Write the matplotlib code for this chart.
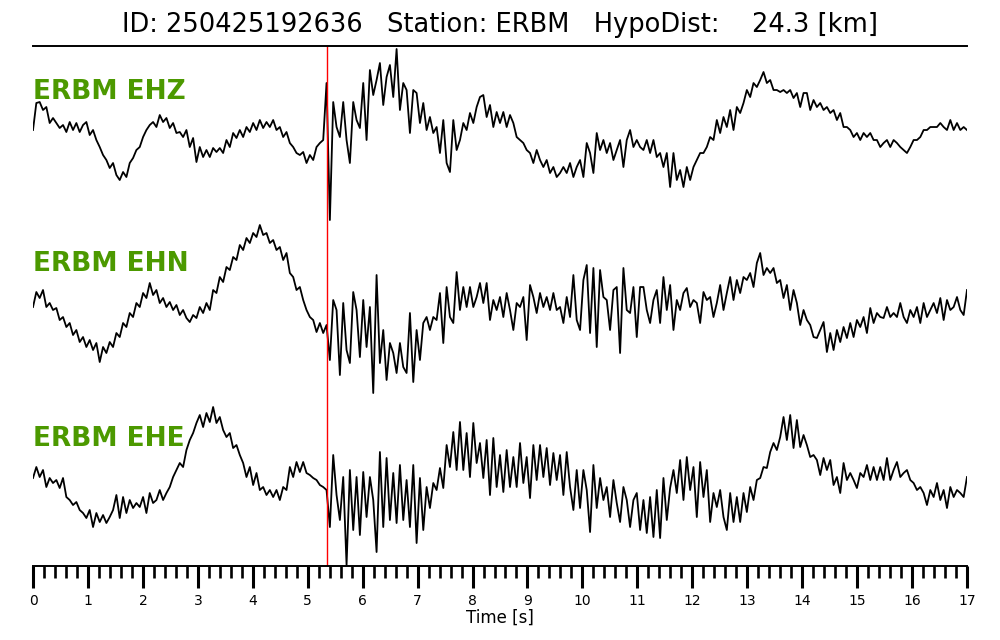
import numpy as np
from matplotlib import pyplot as plt
from matplotlib.ticker import MultipleLocator

# header info
event_id = '250425192636'
station = 'ERBM'
hypo_dist = 24.3
channels = ['EHZ', 'EHN', 'EHE']
p_pick = 5.36  # P arrival [s]

# traces, 281 samples over 17 s (arbitrary units)
ehz = [0, 27, 28, 20, 23, 7, 12, 7, 2, 5,
       -2, 8, 0, 7, -2, 5, 8, -5, 0, -10,
       -17, -25, -30, -38, -33, -45, -50, -42, -47, -33,
       -28, -20, -17, -7, 0, 5, 8, 3, 15, 8,
       12, 2, 7, -3, -2, -7, 0, -17, -8, -32,
       -17, -27, -20, -27, -18, -22, -18, -23, -10, -17,
       -3, -8, 0, -7, 3, -2, 7, 0, 10, 2,
       8, 3, 10, 0, 3, -7, -2, -13, -17, -23,
       -25, -22, -33, -25, -30, -17, -13, -10, 47, -90,
       28, 3, -7, 28, -10, -33, 28, 10, 2, 47,
       -10, 60, 35, 50, 67, 25, 53, 65, 33, 81,
       20, 47, 40, -3, 40, 37, 7, 27, 0, 13,
       -3, 3, -23, 10, -33, -42, 10, -20, -10, 7,
       0, 17, 7, 23, 33, 35, 13, 25, 3, 18,
       7, 18, 3, 15, 7, -7, -10, -13, -20, -23,
       -33, -20, -30, -37, -30, -43, -37, -47, -43, -37,
       -43, -33, -47, -37, -30, -47, -13, -23, -43, -3,
       -20, -10, -23, -13, -30, -20, -10, -37, -10, 0,
       -17, -10, -17, -20, -10, -23, -10, -27, -23, -37,
       -23, -57, -23, -50, -40, -57, -37, -50, -37, -30,
       -23, -23, -17, -7, -10, 10, -3, 13, 3, 20,
       0, 23, 17, 27, 40, 33, 47, 43, 50, 58,
       47, 50, 40, 40, 38, 40, 37, 40, 32, 37,
       23, 37, 37, 20, 30, 23, 27, 20, 23, 17,
       20, 10, 17, 3, 3, 0, -7, -3, -10, -3,
       -7, -3, -10, -10, -17, -13, -10, -17, -10, -13,
       -17, -20, -23, -17, -10, -10, -7, 0, 0, 3,
       3, 3, 7, 3, 0, 10, 0, 7, 0, 3, 0]

ehn = [-7, 8, 2, 10, -7, -3, -10, -8, -20, -17,
       -27, -23, -35, -30, -42, -37, -47, -40, -50, -43,
       -62, -47, -53, -42, -47, -33, -37, -23, -27, -13,
       -17, -3, -7, 7, 2, 17, 5, 10, -3, 2,
       -7, -2, -10, -5, -15, -10, -18, -22, -15, -18,
       -7, -13, -3, -10, 10, 7, 23, 18, 33, 30,
       43, 40, 55, 50, 62, 57, 67, 63, 75, 65,
       67, 57, 60, 50, 53, 40, 47, 27, 23, 10,
       13, 0, -10, -17, -20, -32, -23, -33, -25, -60,
       0, -10, -75, -3, -50, -63, 8, -10, -57, 0,
       -47, -7, -93, 25, -63, -30, -80, -43, -53, -73,
       -43, -67, -73, -13, -82, -30, -60, -23, -17, -30,
       -17, -20, 7, -43, 13, -17, -23, 28, -10, 13,
       -7, 13, -7, 3, 17, -3, 17, -20, 0, -10,
       3, -17, 7, -10, -30, -3, -7, 3, -40, 15,
       3, -13, 7, -7, 3, -10, 7, -10, -7, -23,
       3, -17, 25, -20, -30, 20, 35, -33, 32, -47,
       30, 3, 0, -30, 10, 13, -53, 32, -10, -13,
       13, -37, 13, 13, -10, -23, 0, 10, -23, 23,
       -10, 15, -30, 0, -10, 7, 12, -7, 0, -3,
       -23, 8, 0, 3, -17, -3, 15, -10, 7, 23,
       0, 20, 7, 23, 20, 27, 13, 37, 47, 25,
       32, 27, 32, 17, 20, 2, 15, -10, 10, -3,
       -25, -10, -20, -25, -37, -38, -30, -22, -52, -33,
       -50, -30, -42, -27, -38, -23, -37, -20, -27, -17,
       -33, -8, -23, -13, -17, -18, -7, -17, -13, -17,
       -3, -17, -23, -10, -17, -7, -23, -3, -17, -10,
       -3, -13, 2, -20, 0, -10, -7, 3, -10, -15, 10]

ehe = [2, 13, 3, 10, -7, 2, -3, 0, -8, 2,
       -17, -20, -25, -22, -30, -33, -38, -30, -47, -33,
       -42, -35, -43, -37, -30, -15, -38, -17, -33, -20,
       -28, -23, -27, -17, -33, -13, -23, -20, -10, -20,
       -13, -7, 3, 10, 17, 13, 30, 40, 47, 57,
       65, 53, 67, 58, 73, 57, 63, 50, 43, 47,
       32, 35, 25, 17, 3, 13, -5, 7, -10, -7,
       -15, -10, -17, -10, -20, -7, -10, 13, 3, 18,
       8, 18, 7, 5, 2, 0, -5, -7, -10, -47,
       25, -15, -40, 3, -85, 10, -50, 3, -55, 8,
       -37, 3, -20, -72, 28, -47, 22, -40, 7, -43,
       15, -40, 0, -47, 15, -63, 2, -50, -7, -28,
       -3, -10, 12, -8, 35, 13, 48, 10, 58, 10,
       47, 3, 57, 17, 37, 2, 40, -15, 42, -7,
       25, -12, 30, -7, 23, -7, 37, -3, 23, -18,
       35, 0, 35, 3, 32, -5, 27, 0, 25, -15,
       28, -7, -30, 10, -28, 10, -10, -52, 15, -28,
       2, -20, -7, -37, 0, -23, -42, -7, -20, -47,
       -20, -13, -50, -20, -53, -17, -57, -10, -58, 2,
       -40, -8, 10, -13, 20, -20, 23, -10, 13, -37,
       18, -17, 10, -42, -13, -27, -10, -37, -50, -13,
       -42, -17, -42, -13, -32, -7, -20, 0, 2, 13,
       12, 28, 37, 30, 43, 63, 40, 65, 32, 60,
       33, 45, 35, 23, 25, 20, 5, 22, 10, 20,
       -5, 3, -13, 17, 0, 7, 0, -8, 7, 3,
       15, 0, 13, 0, 13, 0, 22, 0, 10, 18,
       3, 7, 10, 0, -3, -10, -7, -13, -25, -10,
       -17, -3, -20, -10, -28, -7, -17, -10, -13, -17, 3]

traces = [ehz, ehn, ehe]
t = np.linspace(0, 17, len(ehz))

# Figure
fig = plt.figure(figsize=(10, 6.4), dpi=100)
ax = fig.add_axes([0.033, 0.1156, 0.934, 0.8125])

offsets = [-130, -300, -480]
label_y = [0.912, 0.58, 0.245]
for tr, off, ch, ly in zip(traces, offsets, channels, label_y):
    ax.plot(t, np.array(tr) + off, color='black', lw=1.3)
    ax.text(0.0, ly, f'{station} {ch}', transform=ax.transAxes,
            color='#4c9900', fontsize=19, fontweight='bold',
            ha='left', va='center')

ax.axvline(p_pick, color='red', lw=1.0)

ax.set_xlim(0, 17)
ax.set_ylim(-566, -46)
ax.set_yticks([])
ax.spines['left'].set_visible(False)
ax.spines['right'].set_visible(False)
ax.spines['top'].set_linewidth(1.4)
ax.spines['bottom'].set_linewidth(1.4)

ax.xaxis.set_major_locator(MultipleLocator(1))
ax.xaxis.set_minor_locator(MultipleLocator(0.2))
ax.tick_params(axis='x', which='major', length=16, width=2.2, labelsize=10, pad=4)
ax.tick_params(axis='x', which='minor', length=8.5, width=1.9)
ax.set_xlabel('Time [s]', fontsize=12, labelpad=1)

fig.text(0.5, 0.961,
         f'ID: {event_id}   Station: {station}   HypoDist:    {hypo_dist} [km]',
         ha='center', va='center', fontsize=18.5)

fig.savefig('out.png', dpi=100)
